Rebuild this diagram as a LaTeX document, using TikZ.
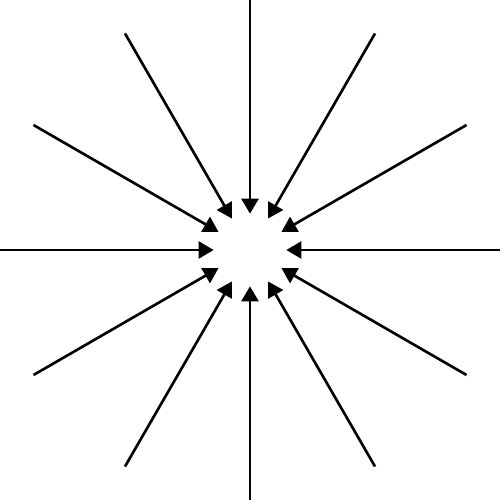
\documentclass[tikz,border=0pt]{standalone}
\usepackage{tikz}
\usetikzlibrary{arrows.meta}

\tikzset{
  ray/.style={line width=1.5pt,black,-{Triangle[length=0.3cm,width=0.34cm]}},
  hole/.style={circle,inner sep=0pt,minimum size=1.44cm}
}

\begin{document}
\begin{tikzpicture}
\useasboundingbox (-5,-5) rectangle (5.02,5);
\node[hole] (c) at (0,0) {};

\foreach \ang in {0,30,...,330}{
  \coordinate (r\ang) at (\ang:5);
  \draw[ray] (r\ang) -- (c);
}
\end{tikzpicture}
\end{document}
